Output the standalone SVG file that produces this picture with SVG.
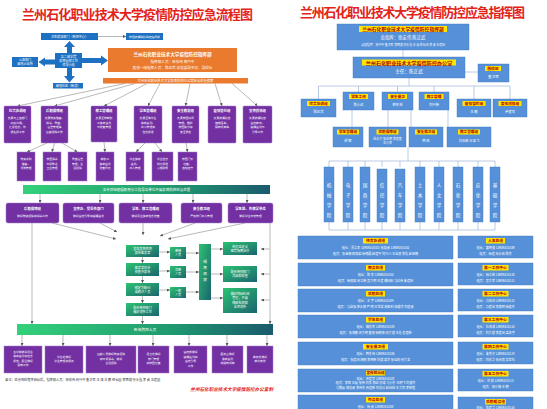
<svg xmlns="http://www.w3.org/2000/svg" width="547" height="409" viewBox="0 0 547 409">
<style>
text{font-family:"Noto Sans CJK SC","Noto Sans",sans-serif}
.ttl{font-size:13px;font-weight:bold;fill:#e3231b;text-anchor:middle}
.b{fill:#1d70c2}
.o{fill:#ea7a2e}
.p{fill:#7230a3;stroke:#a57ccb;stroke-width:0.5}
.g{fill:url(#gbox)}
.w{fill:#fff;text-anchor:middle}
.t{font-size:3.4px;font-weight:bold}
.s{font-size:2.8px}
.s3{font-size:3.1px}
.rb{fill:#5590d8;stroke:#3f78c0;stroke-width:0.4}
.y{fill:#ffe600}
.yt{fill:#b00000;text-anchor:middle;font-weight:bold}
.ln{stroke:#8a8a8a;stroke-width:0.6;fill:none}
.la{marker-end:url(#ah)}
.rl{stroke:#a7bedc;stroke-width:0.8;fill:none}
.note{font-size:3.2px;fill:#333}
.foot{font-size:4.6px;fill:#e3231b;font-weight:bold;font-style:italic}
</style>
<defs>
<marker id="ah" viewBox="0 0 6 6" refX="6" refY="3" markerWidth="3" markerHeight="3" markerUnits="userSpaceOnUse" orient="auto"><path d="M0,0L6,3L0,6z" fill="#555"/></marker>
<linearGradient id="gbar" x1="0" y1="0" x2="1" y2="0"><stop offset="0" stop-color="#33d17a"/><stop offset="0.6" stop-color="#1f9a6f"/><stop offset="1" stop-color="#1b5a6e"/></linearGradient>
<linearGradient id="gbox" x1="0" y1="0" x2="1" y2="1"><stop offset="0" stop-color="#2cc370"/><stop offset="1" stop-color="#1b6470"/></linearGradient>
</defs>
<rect width="547" height="409" fill="#fff"/>

<!-- LEFT POSTER -->
<g id="left-title"><text class="ttl" x="137.5" y="19" textLength="231" lengthAdjust="spacing">兰州石化职业技术大学疫情防控应急流程图</text></g>

<g id="connectors">
  <polygon class="b" points="67,53 67,47 64,47 69.5,41 75,47 72,47 72,53"/>
  <polygon class="b" points="67,68 67,76 64,76 69.5,82.5 75,76 72,76 72,68"/>
  <polygon class="b" points="55,59.5 45,59.5 45,57.5 38.5,62 45,66.5 45,64.5 55,64.5"/>
  <polygon class="b" points="82,58 101,58 101,55.5 108,60.5 101,65.5 101,63 82,63"/>
  <line class="ln la" x1="98" y1="36.5" x2="126" y2="36.5"/>
  <g class="ln la">
    <line x1="125" y1="83.5" x2="17.5" y2="106"/>
    <line x1="135" y1="83.5" x2="54.5" y2="106"/>
    <line x1="147" y1="83.5" x2="104" y2="106"/>
    <line x1="160" y1="83.5" x2="148" y2="106"/>
    <line x1="190" y1="83.5" x2="185.5" y2="106"/>
    <line x1="215" y1="83.5" x2="222" y2="106"/>
    <line x1="232" y1="83.5" x2="257.5" y2="106"/>
    <line x1="47" y1="143" x2="27" y2="152"/>
    <line x1="54.5" y1="143" x2="52" y2="152"/>
    <line x1="62" y1="143" x2="77.5" y2="152"/>
    <line x1="104" y1="142" x2="105" y2="152"/>
    <line x1="145" y1="143" x2="136" y2="152"/>
    <line x1="155" y1="143" x2="162" y2="152"/>
    <line x1="186" y1="143" x2="187.5" y2="152"/>
    <line x1="40" y1="194" x2="40" y2="203"/>
    <line x1="100" y1="194" x2="100" y2="203"/>
    <line x1="143" y1="194" x2="143" y2="203"/>
    <line x1="193" y1="194" x2="193" y2="203"/>
    <line x1="247" y1="194" x2="247" y2="203"/>
    <line x1="52" y1="223" x2="116" y2="239"/>
    <line x1="100" y1="223" x2="117" y2="232"/>
    <line x1="143" y1="223" x2="143" y2="235"/>
    <line x1="195" y1="223" x2="160" y2="236"/>
    <line x1="245" y1="223" x2="168" y2="239"/>
    <line x1="32" y1="223" x2="32" y2="324"/>
    <line x1="270" y1="223" x2="270" y2="324"/>
    <line x1="269.5" y1="249" x2="261" y2="249"/>
    <line x1="269.5" y1="274" x2="261" y2="274"/>
    <line x1="269.5" y1="300" x2="261" y2="300"/>
    <line x1="142.5" y1="257" x2="142.5" y2="263"/>
    <line x1="142.5" y1="276" x2="142.5" y2="283"/>
    <line x1="142.5" y1="296" x2="142.5" y2="303"/>
    <line x1="142.5" y1="316" x2="142.5" y2="324"/>
    <line x1="159" y1="252" x2="170" y2="252"/>
    <line x1="159" y1="271" x2="170" y2="271"/>
    <line x1="159" y1="290" x2="170" y2="290"/>
    <line x1="186" y1="253" x2="199" y2="253"/>
    <line x1="186" y1="272" x2="199" y2="272"/>
    <line x1="186" y1="292" x2="199" y2="292"/>
    <line x1="211" y1="249" x2="223" y2="249"/>
    <line x1="211" y1="274" x2="223" y2="274"/>
    <line x1="211" y1="298" x2="223" y2="298"/>
    <line x1="22" y1="335" x2="22" y2="346"/>
    <line x1="63" y1="335" x2="63" y2="346"/>
    <line x1="110" y1="335" x2="110" y2="346"/>
    <line x1="153" y1="335" x2="153" y2="346"/>
    <line x1="189" y1="335" x2="189" y2="346"/>
    <line x1="227" y1="335" x2="227" y2="346"/>
    <line x1="267" y1="335" x2="267" y2="346"/>
  </g>
  <!-- right poster connectors -->
  <g class="rl">
    <line x1="403" y1="50" x2="403" y2="57"/>
    <line x1="465" y1="72" x2="478" y2="72"/>
    <line x1="409" y1="78" x2="409" y2="86"/>
    <line x1="318.5" y1="86" x2="510" y2="86"/>
    <line x1="318.5" y1="86" x2="318.5" y2="99"/>
    <line x1="358.5" y1="86" x2="358.5" y2="92"/>
    <line x1="397.5" y1="86" x2="397.5" y2="92"/>
    <line x1="434" y1="86" x2="434" y2="92"/>
    <line x1="474" y1="86" x2="474" y2="99"/>
    <line x1="510" y1="86" x2="510" y2="99"/>
    <line x1="352" y1="110" x2="352" y2="127"/>
    <line x1="388" y1="110" x2="388" y2="127"/>
    <line x1="411" y1="110" x2="411" y2="127"/>
    <line x1="448" y1="110" x2="448" y2="127"/>
    <line x1="408" y1="147" x2="408" y2="161"/>
    <line x1="329" y1="161" x2="495" y2="161"/>
    <path d="M329,161V167M348,161V167M365,161V167M382,161V167M400,161V167M420,161V167M439,161V167M458,161V167M478,161V167M495,161V167"/>
    <path d="M329,222V230M348,222V230M365,222V230M382,222V230M400,222V230M420,222V230M439,222V230M458,222V230M478,222V230M495,222V230M329,230H495"/>
  </g>
</g>

<g id="cdc"><rect class="b" x="41" y="33" width="57" height="7"/><text class="w s3" x="69.5" y="37.6">卫生健康部门（疾控中心）</text></g>
<g id="lianfang"><rect class="b" x="126" y="33" width="37" height="7"/><text class="w" style="font-size:2.8px" x="144.5" y="37.5">校园疫情联防联控指挥部</text></g>
<g id="center"><rect class="b" x="55" y="53" width="27" height="15"/><text class="w s3" x="68.5" y="57.6">各二级学院</text><text class="w s3" x="68.5" y="61.6">疫情防控工作</text><text class="w s3" x="68.5" y="65.6">领导小组</text></g>
<g id="police"><rect class="b" x="12" y="57" width="26" height="10"/><text class="w s3" x="25" y="61.2">公安部门</text><text class="w s3" x="25" y="65.2">属地派出所</text></g>
<g id="shequ"><rect class="b" x="53" y="83" width="30" height="5.5"/><text class="w s3" x="68" y="86.9">属地社区（街道）</text></g>
<g id="command"><rect class="o" x="108" y="48" width="129" height="24"/>
<text class="w" style="font-size:4.6px;font-weight:bold" x="172.5" y="56">兰州石化职业技术大学疫情防控指挥部</text>
<text class="w" style="font-size:3.6px" x="172.5" y="63">指挥部人员：徐宏伟  周兴中</text>
<text class="w" style="font-size:3.6px" x="172.5" y="69">其他一线指挥人员：陈正武  各党委副书记、副校长</text></g>
<g id="office"><rect class="o" x="103" y="78" width="145" height="5.5"/><text class="w" style="font-size:3.3px" x="175.5" y="82">兰州石化职业技术大学疫情防控办公室启动应急预案</text></g>

<g id="p1"><rect class="p" x="4" y="106" width="27" height="37" rx="1"/><text class="w t" x="17.5" y="112">综合协调组</text><text class="w s" x="17.5" y="119">负责与上级部门</text><text class="w s" x="17.5" y="123.5">对接沟通，</text><text class="w s" x="17.5" y="128">汇总信息，协</text><text class="w s" x="17.5" y="132.5">调各组工作</text></g>
<g id="p2"><rect class="p" x="41" y="106" width="27" height="37" rx="1"/><text class="w t" x="54.5" y="112">后勤保障组</text><text class="w s" x="54.5" y="119">负责物资储备、</text><text class="w s" x="54.5" y="123.5">消杀、食堂、</text><text class="w s" x="54.5" y="128">宿舍管理等</text><text class="w s" x="54.5" y="132.5">后勤保障工作</text></g>
<g id="p3"><rect class="p" x="91" y="106" width="26" height="36" rx="1"/><text class="w t" x="104" y="112">教工管理组</text><text class="w s" x="104" y="119">负责全校教职</text><text class="w s" x="104" y="123.5">工健康监测</text><text class="w s" x="104" y="128">与排查管理</text></g>
<g id="p4"><rect class="p" x="134" y="106" width="28" height="37" rx="1"/><text class="w t" x="148" y="112">学生管理组</text><text class="w s" x="148" y="119">负责全体学生</text><text class="w s" x="148" y="123.5">健康监测、</text><text class="w s" x="148" y="128">出入管理和</text><text class="w s" x="148" y="132.5">信息报送</text></g>
<g id="p5"><rect class="p" x="172" y="106" width="27" height="37" rx="1"/><text class="w t" x="185.5" y="112">安全稳定组</text><text class="w s" x="185.5" y="119">负责校园封闭</text><text class="w s" x="185.5" y="123.5">管理，维护</text><text class="w s" x="185.5" y="128">校园秩序和</text><text class="w s" x="185.5" y="132.5">安全稳定</text></g>
<g id="p6"><rect class="p" x="208" y="106" width="28" height="37" rx="1"/><text class="w t" x="222" y="112">疫情管控组</text><text class="w s" x="222" y="119">负责疫情防控</text><text class="w s" x="222" y="123.5">措施落实，</text><text class="w s" x="222" y="128">隔离观察等</text></g>
<g id="p7"><rect class="p" x="243" y="106" width="29" height="37" rx="1"/><text class="w t" x="257.5" y="112">宣传舆情组</text><text class="w s" x="257.5" y="119">负责疫情防控</text><text class="w s" x="257.5" y="123.5">宣传教育、</text><text class="w s" x="257.5" y="128">舆情监测与</text><text class="w s" x="257.5" y="132.5">引导工作</text></g>

<g id="s1"><rect class="p" x="17" y="152" width="18" height="29"/><text class="w s" x="26" y="160">物资采购</text><text class="w s" x="26" y="164.5">储备、</text><text class="w s" x="26" y="169">发放管理</text></g>
<g id="s2"><rect class="p" x="43" y="152" width="18" height="29"/><text class="w s" x="52" y="160">校园消杀</text><text class="w s" x="52" y="164.5">环境整治</text><text class="w s" x="52" y="169">卫生管理</text></g>
<g id="s3"><rect class="p" x="68" y="152" width="19" height="29"/><text class="w s" x="77.5" y="160">食堂宿舍</text><text class="w s" x="77.5" y="164.5">管理，生</text><text class="w s" x="77.5" y="169">活保障</text></g>
<g id="s4"><rect class="p" x="96" y="152" width="18" height="29"/><text class="w s" x="105" y="160">教职工</text><text class="w s" x="105" y="164.5">健康监测</text><text class="w s" x="105" y="169">排查登记</text></g>
<g id="s5"><rect class="p" x="126" y="152" width="18" height="29"/><text class="w s" x="135" y="160">学生健康</text><text class="w s" x="135" y="164.5">监测、</text><text class="w s" x="135" y="169">出入管理</text></g>
<g id="s6"><rect class="p" x="152" y="152" width="21" height="29"/><text class="w s" x="162.5" y="160">学生信息</text><text class="w s" x="162.5" y="164.5">统计报送</text><text class="w s" x="162.5" y="169">心理疏导</text></g>
<g id="s7"><rect class="p" x="178" y="152" width="19" height="29"/><text class="w s" x="187.5" y="160">校园门禁</text><text class="w s" x="187.5" y="164.5">巡查、</text><text class="w s" x="187.5" y="169">值班值守</text></g>

<g id="bar1"><rect x="23" y="185" width="247" height="9" fill="url(#gbar)"/><text class="w" style="font-size:3.5px" x="146.5" y="190.8">各专项组根据职责分工指导各单位开展疫情防控应急处置</text></g>

<g id="r3a"><rect class="p" x="6" y="203" width="53" height="20" rx="2"/><text class="w t" x="32.5" y="209.5">后勤保障组</text><text class="w s" x="32.5" y="217">做好物资保障和消杀工作</text></g>
<g id="r3b"><rect class="p" x="63" y="203" width="51" height="20" rx="2"/><text class="w t" x="88.5" y="209.5">宣传办、党委各部门</text><text class="w s" x="88.5" y="217">做好宣传引导和舆情监测</text></g>
<g id="r3c"><rect class="p" x="119" y="203" width="53" height="20" rx="2"/><text class="w t" x="145.5" y="209.5">学生、教工管理组</text><text class="w s" x="145.5" y="217">做好师生健康信息排查</text></g>
<g id="r3d"><rect class="p" x="181" y="203" width="41" height="20" rx="2"/><text class="w t" x="201.5" y="209.5">安全稳卫组</text><text class="w s" x="201.5" y="217">严格校门出入管理</text></g>
<g id="r3e"><rect class="p" x="228" y="203" width="45" height="20" rx="2"/><text class="w t" x="250.5" y="209.5">学生处、各教学单位</text><text class="w s" x="250.5" y="217">做好学生日常管理</text></g>

<g id="c1r1"><rect class="g" x="126" y="245" width="33" height="12"/><text class="w s3" x="142.5" y="250">发现发热病例</text><text class="w s3" x="142.5" y="254.3">报告医务室</text></g>
<g id="c1r2"><rect class="g" x="126" y="263" width="33" height="13"/><text class="w s3" x="142.5" y="268.5">医务室初步</text><text class="w s3" x="142.5" y="272.8">排查并报告</text></g>
<g id="c1r3"><rect class="g" x="126" y="283" width="33" height="13"/><text class="w s3" x="142.5" y="288.5">确定为疑似</text><text class="w s3" x="142.5" y="292.8">或确诊人员</text></g>
<g id="c1r4"><rect class="g" x="126" y="303" width="33" height="13"/><text class="w s3" x="142.5" y="308.5">配合疾控部门</text><text class="w s3" x="142.5" y="312.8">做好消杀工作</text></g>
<g id="c2r1"><rect class="g" x="170" y="247" width="16" height="12"/><text class="w s3" x="178" y="252.3">密接</text><text class="w s3" x="178" y="256.3">人员</text></g>
<g id="c2r2"><rect class="g" x="170" y="266" width="16" height="12"/><text class="w s3" x="178" y="271.3">次密</text><text class="w s3" x="178" y="275.3">人员</text></g>
<g id="c2r3"><rect class="g" x="170" y="287" width="16" height="11"/><text class="w s3" x="178" y="291.8">一般</text><text class="w s3" x="178" y="295.6">人员</text></g>
<g id="c3"><rect class="g" x="199" y="244" width="12" height="56"/><text class="w" style="font-size:3.6px" x="205 205 205 205" y="263 269 275 281">隔离观察</text></g>
<g id="c4r1"><rect class="g" x="223" y="242" width="34" height="13"/><text class="w s3" x="240" y="247.5">转运至定点</text><text class="w s3" x="240" y="251.8">医院隔离治疗</text></g>
<g id="c4r2"><rect class="g" x="223" y="266" width="34" height="16"/><text class="w s3" x="240" y="272.5">配合疾控部门</text><text class="w s3" x="240" y="277">流调和排查</text></g>
<g id="c4r3"><rect class="g" x="223" y="288" width="34" height="25"/><text class="w s3" x="240" y="294.5">做好校园封闭</text><text class="w s3" x="240" y="299">管理，开展</text><text class="w s3" x="240" y="303.5">核酸检测和</text><text class="w s3" x="240" y="308">全面消杀</text></g>

<g id="bar2"><rect x="17" y="324" width="256" height="11" fill="url(#gbar)"/><text class="w" style="font-size:3.8px" x="145" y="331">各级防控人员</text></g>

<g id="b1"><rect class="p" x="4" y="346" width="38" height="27"/><text class="w s" x="23" y="352.5">各学院做好师生</text><text class="w s" x="23" y="357">健康监测和信息</text><text class="w s" x="23" y="361.5">报告，配合做好</text><text class="w s" x="23" y="366">隔离工作</text></g>
<g id="b2"><rect class="p" x="45" y="346" width="38" height="27"/><text class="w s" x="64" y="357.5">学生处做好</text><text class="w s" x="64" y="362">学生管理和服务</text></g>
<g id="b3"><rect class="p" x="86" y="346" width="50" height="27"/><text class="w s" x="111" y="355">后勤人员做好物资保障</text><text class="w s" x="111" y="359.5">和环境消杀，做好</text><text class="w s" x="111" y="364">生活保障</text></g>
<g id="b4"><rect class="p" x="138" y="346" width="31" height="27"/><text class="w s" x="153.5" y="355">保卫处做好</text><text class="w s" x="153.5" y="359.5">校门管理</text><text class="w s" x="153.5" y="364">和校园巡查</text></g>
<g id="b5"><rect class="p" x="174" y="346" width="33" height="27"/><text class="w s" x="190.5" y="353">宣传部做好</text><text class="w s" x="190.5" y="357.5">舆情监测和</text><text class="w s" x="190.5" y="362">宣传引导</text><text class="w s" x="190.5" y="366.5">工作</text></g>
<g id="b6"><rect class="p" x="212" y="346" width="31" height="27"/><text class="w s" x="227.5" y="355">医务室做好</text><text class="w s" x="227.5" y="359.5">健康监测</text><text class="w s" x="227.5" y="364">和隔离观察</text></g>
<g id="b7"><rect class="p" x="247" y="346" width="26" height="27"/><text class="w s" x="260" y="357.5">教务处做好</text><text class="w s" x="260" y="362">教学安排</text></g>

<g id="note"><text class="note" x="5" y="381">备注：应急响应程序启动后，指挥部人员：徐宏伟  周兴中  董卫军  王  涛  王  鹏  任长国  李西斌  孙永鑫  李  勇  王建国</text></g>
<g id="footer"><text class="foot" x="273" y="391" text-anchor="end">兰州石化职业技术大学疫情防控办公室制</text></g>

<!-- RIGHT POSTER -->
<g id="right-title"><text class="ttl" x="412.5" y="16.5" textLength="225" lengthAdjust="spacing">兰州石化职业技术大学疫情防控应急指挥图</text></g>

<g id="hq"><rect class="rb" x="337" y="24" width="132" height="26"/><rect class="y" x="359" y="26" width="88" height="6"/><text class="yt" style="font-size:4.8px" x="403" y="30.8">兰州石化职业技术大学疫情防控指挥部</text><text class="w" style="font-size:4.4px" x="403" y="38.5">总指挥：徐宏伟  陈正武</text><text class="w" style="font-size:2.9px" x="403" y="45.5">副总指挥：周兴中  董卫军  李西斌  孙永鑫  王  涛  任长国  李  勇  王建国</text></g>
<g id="r-office"><rect class="rb" x="353" y="57" width="112" height="21"/><rect class="y" x="362" y="59.5" width="94" height="6"/><text class="yt" style="font-size:5.1px" x="409" y="64.6">兰州石化职业技术大学疫情防控办公室</text><text class="w" style="font-size:4.6px" x="409" y="73">主任：陈正武</text></g>
<g id="r-west"><rect class="rb" x="478" y="64" width="31" height="18"/><rect class="y" x="485" y="66" width="16" height="5"/><text class="yt" style="font-size:3.8px" x="493" y="70">西校区</text><text class="w" style="font-size:3.6px" x="493.5" y="78">董卫军</text></g>

<g id="rb1"><rect class="rb" x="301" y="99" width="35" height="18"/><rect class="y" x="307" y="101" width="23" height="5"/><text class="yt" style="font-size:3.7px" x="318.5" y="105">综合协调组</text><text class="w" style="font-size:3.4px" x="318.5" y="113">陈正武</text></g>
<g id="rb2"><rect class="rb" x="343" y="92" width="31" height="18"/><rect class="y" x="349" y="94" width="19" height="5"/><text class="yt" style="font-size:3.7px" x="358.5" y="98">学生工作</text><text class="w" style="font-size:3.4px" x="358.5" y="106">陈小红</text></g>
<g id="rb3"><rect class="rb" x="382" y="92" width="31" height="18"/><rect class="y" x="388" y="94" width="19" height="5"/><text class="yt" style="font-size:3.7px" x="397.5" y="98">安全保卫</text><text class="w" style="font-size:3.4px" x="397.5" y="106">韩东林</text></g>
<g id="rb4"><rect class="rb" x="419" y="92" width="30" height="18"/><rect class="y" x="424.5" y="94" width="19" height="5"/><text class="yt" style="font-size:3.7px" x="434" y="98">教工管理</text><text class="w" style="font-size:3.4px" x="434" y="106">刘兴新</text></g>
<g id="rb5"><rect class="rb" x="457" y="99" width="34" height="18"/><rect class="y" x="462.5" y="101" width="23" height="5"/><text class="yt" style="font-size:3.7px" x="474" y="105">疫情管控组</text><text class="w" style="font-size:3.4px" x="474" y="113">王  鹏</text></g>
<g id="rb6"><rect class="rb" x="493" y="99" width="34" height="18"/><rect class="y" x="498.5" y="101" width="23" height="5"/><text class="yt" style="font-size:3.7px" x="510" y="105">宣传舆情组</text><text class="w" style="font-size:3.4px" x="510" y="113">尹建军</text></g>

<g id="rc1"><rect class="rb" x="333" y="127" width="30" height="20"/><rect class="y" x="337" y="129.5" width="22" height="5"/><text class="yt" style="font-size:3.6px" x="348" y="133.4">学生管理组</text><text class="w" style="font-size:3.3px" x="348" y="142">郝  颖</text></g>
<g id="rc2"><rect class="rb" x="369" y="127" width="37" height="20"/><rect class="y" x="376.5" y="129.5" width="22" height="5"/><text class="yt" style="font-size:3.6px" x="387.5" y="133.4">后勤保障组</text><text class="w" style="font-size:3px" x="387.5" y="139.5">杜永文  张正明  李建春</text><text class="w" style="font-size:3px" x="387.5" y="144">王小军</text></g>
<g id="rc3"><rect class="rb" x="409" y="127" width="34" height="20"/><rect class="y" x="415" y="129.5" width="22" height="5"/><text class="yt" style="font-size:3.6px" x="426" y="133.4">安全稳卫组</text><text class="w" style="font-size:3.3px" x="426" y="142">韩  林</text></g>
<g id="rc4"><rect class="rb" x="447" y="127" width="44" height="20"/><rect class="y" x="458" y="129.5" width="22" height="5"/><text class="yt" style="font-size:3.6px" x="469" y="133.4">教工管理组</text><text class="w" style="font-size:3.3px" x="469" y="142">刘玉新  王至飞</text></g>

<g id="col1"><rect class="rb" x="324" y="167" width="10" height="55"/><text class="w" style="font-size:4.6px" x="329 329 329 329" y="187 197 207 217">机械学院</text></g>
<g id="col2"><rect class="rb" x="343" y="167" width="10" height="55"/><text class="w" style="font-size:4.6px" x="348 348 348 348" y="187 197 207 217">电子学院</text></g>
<g id="col3"><rect class="rb" x="360" y="167" width="10" height="55"/><text class="w" style="font-size:4.6px" x="365 365 365 365" y="187 197 207 217">国商学院</text></g>
<g id="col4"><rect class="rb" x="377" y="169" width="10" height="53"/><text class="w" style="font-size:4.6px" x="382 382 382 382" y="187 197 207 217">信控学院</text></g>
<g id="col5"><rect class="rb" x="395" y="169" width="10" height="53"/><text class="w" style="font-size:4.6px" x="400 400 400 400" y="187 197 207 217">汽车学院</text></g>
<g id="col6"><rect class="rb" x="415" y="167" width="10" height="55"/><text class="w" style="font-size:4.6px" x="420 420 420 420" y="187 197 207 217">土木学院</text></g>
<g id="col7"><rect class="rb" x="434" y="167" width="10" height="55"/><text class="w" style="font-size:4.6px" x="439 439 439 439" y="187 197 207 217">人文学院</text></g>
<g id="col8"><rect class="rb" x="453" y="167" width="10" height="55"/><text class="w" style="font-size:4.6px" x="458 458 458 458" y="187 197 207 217">石化学院</text></g>
<g id="col9"><rect class="rb" x="473" y="167" width="10" height="55"/><text class="w" style="font-size:4.6px" x="478 478 478 478" y="187 197 207 217">应化学院</text></g>
<g id="col10"><rect class="rb" x="490" y="167" width="10" height="55"/><text class="w" style="font-size:4.6px" x="495 495 495 495" y="187 197 207 217">基础学院</text></g>

<g id="t-l1"><rect class="rb" x="298" y="236" width="155" height="23"/><rect class="y" x="363" y="238" width="25" height="5.5"/><text class="yt" style="font-size:3.8px" x="375.5" y="242.2">综合协调组</text><text class="w s3" x="375.5" y="249">组长：贾立军  13909310101    张振勇  13909310102</text><text class="w s3" x="375.5" y="255">组员：张金梅  邵丽君  杨晓霞  赵建平  刘乃川  王佳丽  李鑫  赵亚楠</text></g>
<g id="t-l2"><rect class="rb" x="298" y="263" width="155" height="23"/><rect class="y" x="366" y="265" width="19" height="5.5"/><text class="yt" style="font-size:3.8px" x="375.5" y="269.2">教务处组</text><text class="w s3" x="375.5" y="276">组长：陈  军  13909310103</text><text class="w s3" x="375.5" y="282">组员：杨丽君  周立新  吴文明  王建  魏国庆  马红伟  朱建国</text></g>
<g id="t-l3"><rect class="rb" x="298" y="289" width="155" height="23"/><rect class="y" x="366" y="291" width="19" height="5.5"/><text class="yt" style="font-size:3.8px" x="375.5" y="295.2">后勤处组</text><text class="w s3" x="375.5" y="302">组长：王  宇  13909310104</text><text class="w s3" x="375.5" y="308">组员：马自强  郭永辉  严  明  王世龙  胡亚利  康德杰  刘建勇</text></g>
<g id="t-l4"><rect class="rb" x="298" y="315" width="155" height="23"/><rect class="y" x="366" y="317" width="19" height="5.5"/><text class="yt" style="font-size:3.8px" x="375.5" y="321.2">学生处组</text><text class="w s3" x="375.5" y="328">组长：魏志军  13909310105</text><text class="w s3" x="375.5" y="334">组员：张海鹏  周文明  董丽  杨晓燕  何文斌  王鑫  吴建新</text></g>
<g id="t-l5"><rect class="rb" x="298" y="342" width="155" height="23"/><rect class="y" x="363" y="344" width="25" height="5.5"/><text class="yt" style="font-size:3.8px" x="375.5" y="348.2">安全保卫组</text><text class="w s3" x="375.5" y="355">组长：韩东林  13909310106</text><text class="w s3" x="375.5" y="361">组员：张建国  胡刚  李明新  刘斌  高杰  张佳莉  何文龙</text></g>
<g id="t-l6"><rect class="rb" x="298" y="369" width="155" height="23"/><rect class="y" x="366" y="370.5" width="19" height="5"/><text class="yt" style="font-size:3.6px" x="375.5" y="374.3">宣传统战组</text><text class="w s3" x="375.5" y="379.5">组长：尹建军  13909310107</text><text class="w s3" x="375.5" y="384">组员：李毅  王磊  张伟  刘洋  郑凯  孙涛  马小东  王明飞  刘俊杰</text><text class="w s3" x="375.5" y="388.5">马腾云  蒋志勇  李伟东  周建新  刘志江  赵国林  王文军  李锦程</text></g>
<g id="t-l7"><rect class="rb" x="298" y="395" width="155" height="20"/><rect class="y" x="366" y="397" width="19" height="5.5"/><text class="yt" style="font-size:3.8px" x="375.5" y="401.2">财务处组</text><text class="w s3" x="375.5" y="407.5">组长：杨  勇  13909310108</text></g>

<g id="t-r1"><rect class="rb" x="458" y="236" width="75" height="22"/><rect class="y" x="486" y="238" width="19" height="5.5"/><text class="yt" style="font-size:3.8px" x="495.5" y="242.2">人事处组</text><text class="w s3" x="495.5" y="249">组长：黄明俊  13909310109</text><text class="w s3" x="495.5" y="254.5">组员：杨建  吕永庆  陈杰</text></g>
<g id="t-r2"><rect class="rb" x="458" y="263" width="75" height="22"/><rect class="y" x="482.5" y="265" width="26" height="5.5"/><text class="yt" style="font-size:3.8px" x="495.5" y="269.2">第一工作中心</text><text class="w s3" x="495.5" y="276">组长：杨立新  13909310110</text><text class="w s3" x="495.5" y="281.5">组员：吴大军  13909310111</text></g>
<g id="t-r3"><rect class="rb" x="458" y="289" width="75" height="22"/><rect class="y" x="482.5" y="291" width="26" height="5.5"/><text class="yt" style="font-size:3.8px" x="495.5" y="295.2">第二工作中心</text><text class="w s3" x="495.5" y="302">组长：冯庆国  13909310112</text><text class="w s3" x="495.5" y="307.5">组员：马建国  李德明  杨振东</text></g>
<g id="t-r4"><rect class="rb" x="458" y="315" width="75" height="22"/><rect class="y" x="482.5" y="317" width="26" height="5.5"/><text class="yt" style="font-size:3.8px" x="495.5" y="321.2">第三工作中心</text><text class="w s3" x="495.5" y="328">组长：杜海涛  13909310113</text><text class="w s3" x="495.5" y="333.5">组员：刘文斌  李建国  孟庆宇</text></g>
<g id="t-r5"><rect class="rb" x="458" y="342" width="75" height="22"/><rect class="y" x="482.5" y="344" width="26" height="5.5"/><text class="yt" style="font-size:3.8px" x="495.5" y="348.2">第四工作中心</text><text class="w s3" x="495.5" y="355">组长：朱秀芬  13909310114</text><text class="w s3" x="495.5" y="360.5">组员：刘志华  张国良  梁世科</text></g>
<g id="t-r6"><rect class="rb" x="458" y="369" width="75" height="22"/><rect class="y" x="482.5" y="371" width="26" height="5.5"/><text class="yt" style="font-size:3.8px" x="495.5" y="375.2">第五工作中心</text><text class="w s3" x="495.5" y="382">组长：刘  丽  13909310115</text><text class="w s3" x="495.5" y="387.5">组员：胡小梅  王  娟</text></g>
<g id="t-r7"><rect class="rb" x="458" y="397" width="75" height="18"/><rect class="y" x="485" y="399" width="21" height="5.5"/><text class="yt" style="font-size:3.8px" x="495.5" y="403.2">后勤服务组</text><text class="w s3" x="495.5" y="408.5">组长：陈建华  13909310116</text></g>
</svg>
